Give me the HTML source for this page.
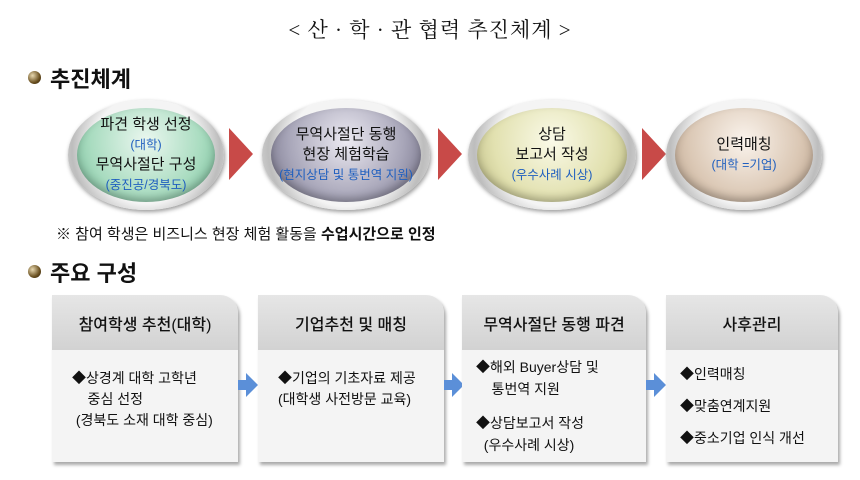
<!DOCTYPE html>
<html><head><meta charset="utf-8"><style>
body{margin:0;width:860px;height:480px;background:#fff;position:relative;overflow:hidden;font-family:"Liberation Sans","Noto Sans CJK KR",sans-serif;color:#111}
.a{position:absolute}
.title{left:0;width:860px;top:14px;text-align:center;font-family:"Liberation Serif","Noto Serif CJK SC",serif;font-size:21px;letter-spacing:1px}
.h{font-size:22px;font-weight:bold;left:50px}
.dot{width:13px;height:13px;border-radius:50%;background:radial-gradient(circle at 35% 35%,#e8d8b0,#6a5020 60%,#2a1a05);left:28px}
.c{border-radius:50%;background:radial-gradient(circle at 50% 45%,#f4f4f4 55%,#bdbdbd 75%,#e8e8e8 100%);box-shadow:1px 2px 4px #999}
.ci{position:absolute;left:9px;top:8px;right:9px;bottom:8px;border-radius:50%;display:flex;flex-direction:column;align-items:center;justify-content:center;text-align:center;font-size:15px;line-height:20px;box-shadow:inset 0 -4px 8px rgba(0,0,0,.25)}
.b{color:#1f5fbf;font-size:12.5px}
.ra{width:0;height:0;border-top:26px solid transparent;border-bottom:26px solid transparent;border-left:24px solid #c84a48}
.bx{width:186px;height:167px;background:#f4f4f4;box-shadow:2px 3px 3px #aaa;border-top-right-radius:18px;overflow:hidden}
.hd{height:55px;background:linear-gradient(#e6e6e6,#d2d2d2);font-size:16px;font-weight:500;display:flex;align-items:center;justify-content:center}
.bd{font-size:14px;line-height:21px;padding:18px 0 0 20px}
.ba{width:0;height:0;border-top:12px solid transparent;border-bottom:12px solid transparent;border-left:12px solid #5b8fd8}
.bar{width:10px;height:10px;background:#5b8fd8}
</style></head><body>
<div class="a title">&lt; 산 · 학 · 관  협력  추진체계 &gt;</div>
<div class="a dot" style="top:71px"></div><div class="a h" style="top:62px">추진체계</div>

<div class="a c" style="left:68px;top:100px;width:156px;height:110px"><div class="ci" style="background:radial-gradient(circle at 50% 35%,#eaf7ef,#a9dcc0 60%,#6fb893)"><div>파견 학생 선정</div><div class="b">(대학)</div><div>무역사절단 구성</div><div class="b">(중진공/경북도)</div></div></div>
<div class="a ra" style="left:229px;top:128px"></div>
<div class="a c" style="left:262px;top:100px;width:168px;height:110px"><div class="ci" style="background:radial-gradient(circle at 50% 35%,#eceaf2,#a7a5b8 60%,#6d6a80)"><div>무역사절단 동행</div><div>현장 체험학습</div><div class="b">(현지상담 및 통번역 지원)</div></div></div>
<div class="a ra" style="left:438px;top:128px"></div>
<div class="a c" style="left:468px;top:100px;width:168px;height:110px"><div class="ci" style="background:radial-gradient(circle at 50% 35%,#fafae8,#e2e1b0 60%,#b9b77e)"><div>상담</div><div>보고서 작성</div><div class="b">(우수사례 시상)</div></div></div>
<div class="a ra" style="left:642px;top:128px"></div>
<div class="a c" style="left:666px;top:100px;width:156px;height:110px"><div class="ci" style="background:radial-gradient(circle at 50% 35%,#faf3ec,#dbc8b5 60%,#b89f88)"><div>인력매칭</div><div class="b">(대학 =기업)</div></div></div>

<div class="a" style="left:56px;top:223px;font-size:15px">※ 참여 학생은 비즈니스 현장 체험 활동을 <b>수업시간으로 인정</b></div>

<div class="a dot" style="top:265px"></div><div class="a h" style="top:256px">주요 구성</div>

<div class="a bx" style="left:52px;top:295px"><div class="hd">참여학생 추천(대학)</div><div class="bd" style="padding-top:18px">◆상경계 대학 고학년<br>&nbsp;&nbsp;&nbsp;&nbsp;중심 선정<br>&nbsp;(경북도 소재 대학 중심)</div></div>
<div class="a bar" style="left:238px;top:380px"></div><div class="a ba" style="left:246px;top:373px"></div>
<div class="a bx" style="left:258px;top:295px"><div class="hd">기업추천 및 매칭</div><div class="bd">◆기업의 기초자료 제공<br>(대학생 사전방문 교육)</div></div>
<div class="a bar" style="left:444px;top:380px"></div><div class="a ba" style="left:452px;top:373px"></div>
<div class="a bx" style="left:462px;top:295px;width:184px"><div class="hd">무역사절단 동행 파견</div><div class="bd" style="padding:6px 0 0 14px;line-height:22px">◆해외 Buyer상담 및<br>&nbsp;&nbsp;&nbsp;&nbsp;통번역 지원<br><div style="height:12px"></div>◆상담보고서 작성<br>&nbsp;&nbsp;(우수사례 시상)</div></div>
<div class="a bar" style="left:646px;top:380px"></div><div class="a ba" style="left:654px;top:373px"></div>
<div class="a bx" style="left:666px;top:295px;width:172px"><div class="hd">사후관리</div><div class="bd" style="padding:8px 0 0 14px;line-height:32px">◆인력매칭<br>◆맞춤연계지원<br>◆중소기업 인식 개선</div></div>
</body></html>
